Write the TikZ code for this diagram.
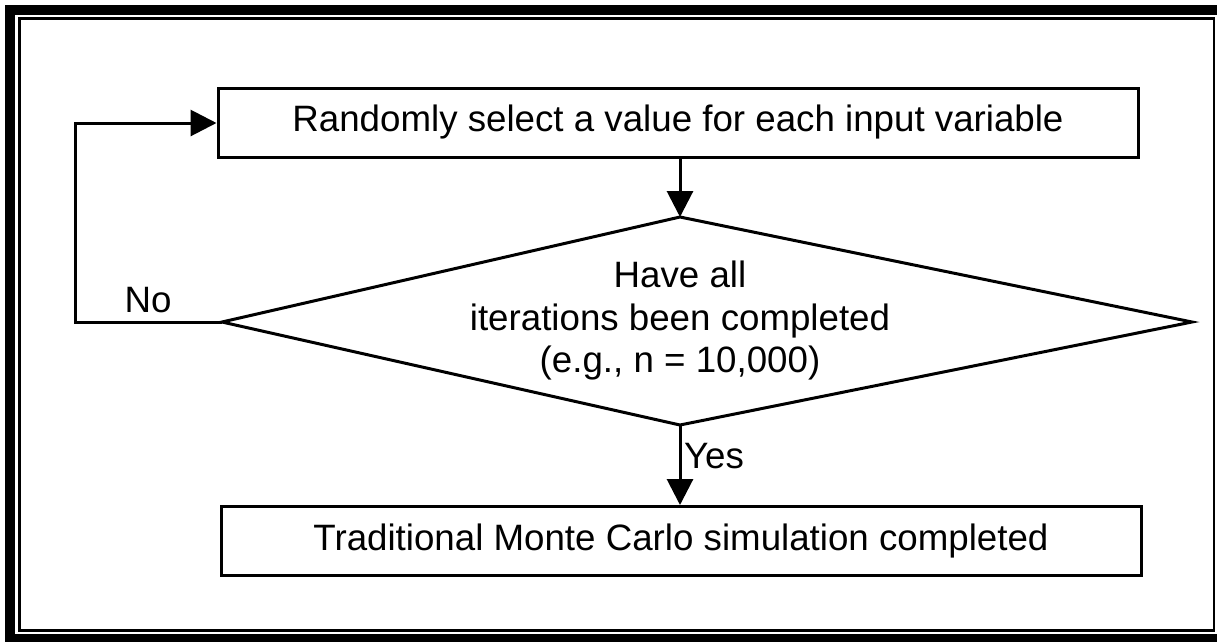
\documentclass[tikz,border=0pt]{standalone}
\usepackage{fontspec}
\setmainfont{Liberation Sans}
\usetikzlibrary{arrows.meta}
\begin{document}
\begin{tikzpicture}[x=1pt,y=-1pt,
  every node/.style={font=\fontsize{36.7}{42.5}\selectfont},
  procbox/.style={draw,line width=3pt,minimum width=920pt,minimum height=69pt,inner sep=0pt},
  conn/.style={line width=3pt,-{Triangle[length=26pt,width=26pt]}},
  plainline/.style={line width=3pt}]
\useasboundingbox (0,0) rectangle (1217,641);
\begin{scope}
\clip (0,0) rectangle (1217,641);
\draw[line width=10pt] (10,10) rectangle (1224,639);
\draw[line width=2.5pt] (19.5,18.5) rectangle (1214,630.5);
\end{scope}
\node[procbox] (sel) at (678,122.5) {Randomly select a value for each input variable};
\coordinate (dt) at (680,217);
\coordinate (db) at (680,425);
\coordinate (dl) at (222,322);
\coordinate (dr) at (1192,322);
\draw[line width=3pt,line join=miter] (dt) -- (dr) -- (db) -- (dl) -- cycle;
\node[align=center,inner sep=0pt] (q) at (680,321) {Have all\\iterations been completed\\(e.g., n = 10,000)};
\node[procbox] (done) at (681,541) {Traditional Monte Carlo simulation completed};
\coordinate (lc) at (75,322);
\coordinate (tc) at (75,123);
\draw[conn] (sel.south -| dt) -- (dt);
\draw[conn] (db) -- (done.north -| db);
\draw[conn] (dl) -- (lc) -- (tc) -- (sel.west |- tc);
\node[inner sep=0pt] (no) at (148,300) {No};
\node[inner sep=0pt] (yes) at (714,456) {Yes};
\end{tikzpicture}
\end{document}
